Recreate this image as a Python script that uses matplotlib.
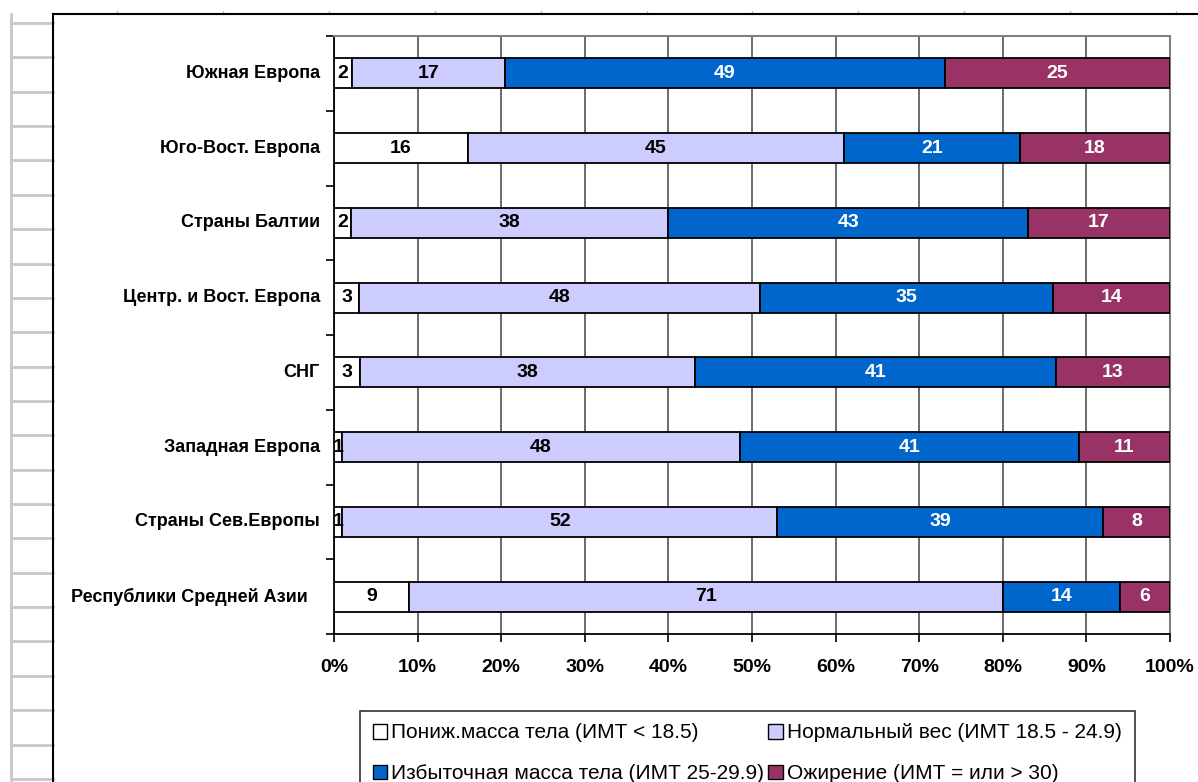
import matplotlib.pyplot as plt
from matplotlib.patches import Patch
import numpy as np

regions = ['Южная Европа', 'Юго-Вост. Европа', 'Страны Балтии', 'Центр. и Вост. Европа',
           'СНГ', 'Западная Европа', 'Страны Сев.Европы', 'Республики Средней Азии']
under = [2, 16, 2, 3, 3, 1, 1, 9]
normal = [17, 45, 38, 48, 38, 48, 52, 71]
over = [49, 21, 43, 35, 41, 41, 39, 14]
obese = [25, 18, 17, 14, 13, 11, 8, 6]
series_names = ['Пониж.масса тела (ИМТ < 18.5)', 'Нормальный вес (ИМТ 18.5 - 24.9)',
                'Избыточная масса тела (ИМТ 25-29.9)', 'Ожирение (ИМТ = или > 30)']
colors = ['#FFFFFF', '#CCCCFF', '#0066CC', '#993366']
label_colors = ['black', 'black', 'white', 'white']
xticks = np.arange(0, 101, 10)

plt.rcParams['font.family'] = ['Liberation Sans', 'DejaVu Sans']

W, H = 1198, 782
fig = plt.figure(figsize=(W / 100, H / 100), dpi=100)

# spreadsheet background (pixel coordinates)
bg = fig.add_axes([0, 0, 1, 1], zorder=0)
bg.set_xlim(0, W)
bg.set_ylim(H, 0)
bg.axis('off')
bg.plot([11, 11], [14, H], color='#c8c8c8', lw=2)
for yy in np.arange(23, H, 34.36):
    bg.plot([11, 53], [yy, yy], color='#c8c8c8', lw=2)
for xx in np.arange(117, W, 105.9):
    bg.plot([xx, xx], [11, 14], color='#c0c0c0', lw=1)
bg.plot([53, 53], [H, 14], color='black', lw=1.5)
bg.plot([53, W], [14, 14], color='black', lw=1.5)

# plot area
left, right, top, bottom = 334, 1170, 36, 634
ax = fig.add_axes([left / W, 1 - bottom / H, (right - left) / W, (bottom - top) / H], zorder=1)

data = np.array([under, normal, over, obese], dtype=float)
pct = data / data.sum(axis=0) * 100
ypos = np.arange(len(regions))
starts = np.zeros(len(regions))
for i in range(4):
    ax.barh(ypos, pct[i], left=starts, height=0.4, color=colors[i],
            edgecolor='black', linewidth=1.3, zorder=3)
    for j in range(len(regions)):
        ax.text(starts[j] + pct[i][j] / 2, ypos[j], str(int(data[i][j])),
                ha='center', va='center', fontsize=14, fontweight='bold',
                color=label_colors[i], zorder=4)
    starts += pct[i]

ax.set_xlim(0, 100)
ax.set_ylim(len(regions) - 0.5, -0.5)
ax.set_xticks(xticks)
ax.set_xticklabels([f'{t}%' for t in xticks], fontsize=14, fontweight='bold')
ax.tick_params(axis='x', direction='out', length=6, width=1.2, pad=12)
ax.set_yticks(np.arange(-0.5, len(regions)))
ax.set_yticklabels([])
ax.tick_params(axis='y', direction='out', length=6, width=1.2)
ax.xaxis.grid(True, color='#444444', lw=1.1, zorder=1)
ax.set_axisbelow(True)
for s in ['top', 'right']:
    ax.spines[s].set_color('#808080')
    ax.spines[s].set_linewidth(1.5)
for s in ['left', 'bottom']:
    ax.spines[s].set_color('black')
    ax.spines[s].set_linewidth(1.3)

for j, name in enumerate(regions):
    xoff = -26 / (right - left) if j == len(regions) - 1 else -14 / (right - left)
    ax.text(xoff, ypos[j], name, transform=ax.get_yaxis_transform(),
            ha='right', va='center', fontsize=13, fontweight='bold')

# legend fills column-wise, so interleave to get row-wise order
order = [0, 2, 1, 3]
handles = [Patch(facecolor=colors[k], edgecolor='black', linewidth=1) for k in order]
labels = [series_names[k] for k in order]
leg = fig.legend(handles, labels, loc='upper left',
                 bbox_to_anchor=(360 / W, 1 - 711 / H), ncol=2, fontsize=15,
                 frameon=True, fancybox=False, edgecolor='black',
                 handlelength=0.7, handleheight=0.7, handletextpad=0.2,
                 columnspacing=0.2, labelspacing=1.05, borderpad=0.6, borderaxespad=0)
leg.get_frame().set_linewidth(1.2)

fig.savefig('out.png', dpi=100)
